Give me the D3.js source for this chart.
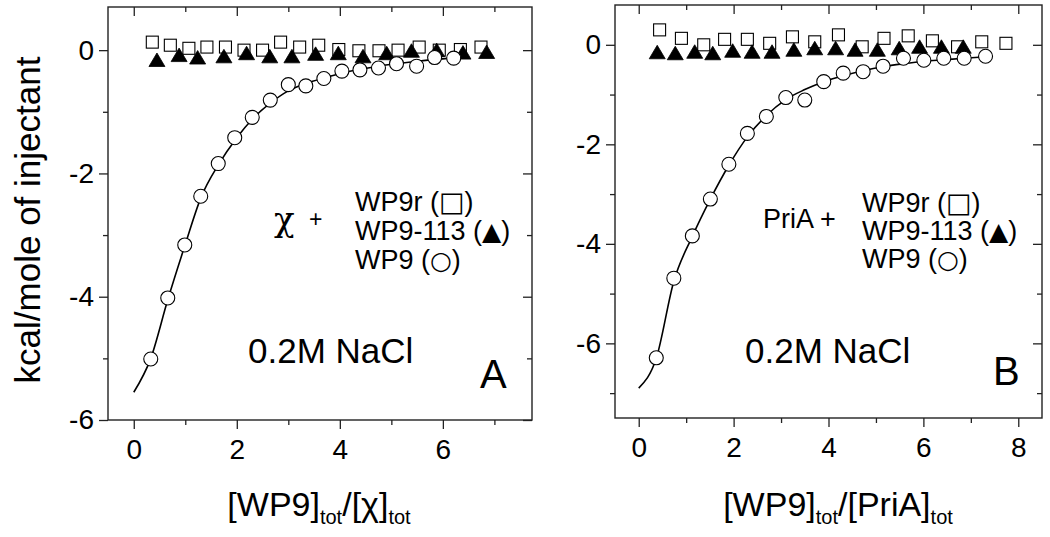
<!DOCTYPE html>
<html><head><meta charset="utf-8">
<script src="https://cdn.jsdelivr.net/npm/d3@7"></script>
<style>
body{margin:0;background:#fff}
svg{display:block}
text{font-family:"Liberation Sans",Arial,sans-serif;fill:#000}
</style>
</head><body>
<svg id="c" width="1050" height="537"></svg>
<script>
// ---------- Panel A data (chi + ...) ----------
const A_wp9_x = [0.33,0.66,0.99,1.30,1.64,1.96,2.30,2.65,3.00,3.34,3.69,4.04,4.39,4.75,5.10,5.49,5.84,6.21];
const A_wp9_y = [-5.01,-4.02,-3.16,-2.37,-1.84,-1.42,-1.09,-0.81,-0.56,-0.58,-0.46,-0.34,-0.32,-0.29,-0.22,-0.26,-0.12,-0.13];
const A_fit_x = [0,0.33,0.66,1.0,1.3,1.65,2.0,2.3,2.65,3.0,3.35,3.7,4.05,4.4,4.75,5.1,5.5,5.85,6.2];
const A_fit_y = [-5.55,-5.0,-4.05,-3.15,-2.4,-1.85,-1.42,-1.12,-0.86,-0.66,-0.54,-0.45,-0.37,-0.31,-0.26,-0.22,-0.18,-0.15,-0.13];
const A_wp9r_x = [0.36,0.71,1.07,1.42,1.78,2.14,2.50,2.85,3.22,3.59,3.98,4.37,4.76,5.13,5.54,5.93,6.34,6.74];
const A_wp9r_y = [0.13,0.08,0.03,0.05,0.05,0.0,0.0,0.13,0.05,0.08,0.01,-0.01,-0.01,0.0,0.05,0.0,0.01,0.05];
const A_wp113_x = [0.45,0.88,1.24,1.75,2.19,2.64,3.07,3.53,3.97,4.45,4.91,5.39,5.88,6.39,6.85];
const A_wp113_y = [-0.16,-0.08,-0.12,-0.10,-0.05,-0.10,-0.10,-0.06,-0.05,-0.10,-0.05,-0.01,0.0,-0.04,-0.03];
const A_xMajor = [0,2,4,6], A_xMinor = [1,3,5,7];
const A_yMajor = [0,-2,-4,-6], A_yMinor = [-1,-3,-5];
const A_xDomain = [-0.5,7.73], A_yDomain = [-6,0.7];

// ---------- Panel B data (PriA + ...) ----------
const B_wp9_x = [0.37,0.74,1.13,1.51,1.90,2.29,2.69,3.10,3.50,3.90,4.31,4.73,5.15,5.58,6.01,6.43,6.86,7.31];
const B_wp9_y = [-6.29,-4.69,-3.84,-3.10,-2.40,-1.78,-1.44,-1.06,-1.11,-0.74,-0.57,-0.54,-0.43,-0.27,-0.31,-0.27,-0.27,-0.23];
const B_fit_x = [0,0.37,0.74,1.13,1.51,1.9,2.29,2.69,3.1,3.5,3.9,4.31,4.73,5.15,5.58,6.01,6.43,6.86,7.31];
const B_fit_y = [-6.9,-6.3,-4.75,-3.85,-3.1,-2.42,-1.85,-1.42,-1.1,-0.9,-0.74,-0.62,-0.52,-0.44,-0.38,-0.33,-0.30,-0.27,-0.24];
const B_wp9r_x = [0.44,0.90,1.37,1.81,2.29,2.76,3.24,3.71,4.21,4.71,5.17,5.68,6.19,6.72,7.23,7.74];
const B_wp9r_y = [0.30,0.13,0.0,0.11,0.11,0.03,0.16,0.06,0.20,-0.04,0.13,0.18,0.08,-0.04,0.06,0.03];
const B_wp113_x = [0.39,0.77,1.18,1.56,1.98,2.39,2.81,3.27,3.71,4.15,4.56,5.03,5.49,5.92,6.38,6.84];
const B_wp113_y = [-0.15,-0.17,-0.14,-0.17,-0.12,-0.14,-0.14,-0.10,-0.07,-0.07,-0.10,-0.10,-0.07,-0.04,-0.04,-0.04];
const B_xMajor = [0,2,4,6,8], B_xMinor = [1,3,5,7];
const B_yMajor = [0,-2,-4,-6], B_yMinor = [-1,-3,-5,-7];
const B_xDomain = [-0.5,8.5], B_yDomain = [-7.5,0.8];

// text
const yTitle = "kcal/mole of injectant";
const legendNames = ["WP9r (", "WP9-113 (", "WP9 ("];
const legendSymbols = ["\u25A1", "\u25B2", "\u25CB"];
const saltLabel = "0.2M NaCl";

const svg = d3.select("#c");
const zip = (xs, ys) => xs.map((x,i)=>({x, y: ys[i]}));
const fmt = d => String(d);

const panels = [
  {left:108, right:532, top:7, bottom:420, xd:A_xDomain, yd:A_yDomain,
   xMaj:A_xMajor, xMin:A_xMinor, yMaj:A_yMajor, yMin:A_yMinor,
   wp9:zip(A_wp9_x,A_wp9_y), fit:zip(A_fit_x,A_fit_y), wp9r:zip(A_wp9r_x,A_wp9r_y), wp113:zip(A_wp113_x,A_wp113_y),
   letter:"A", letterX:480, letterY:388, saltX:248, legX:355, legY:[211,240,269]},
  {left:615, right:1042, top:5, bottom:418, xd:B_xDomain, yd:B_yDomain,
   xMaj:B_xMajor, xMin:B_xMinor, yMaj:B_yMajor, yMin:B_yMinor,
   wp9:zip(B_wp9_x,B_wp9_y), fit:zip(B_fit_x,B_fit_y), wp9r:zip(B_wp9r_x,B_wp9r_y), wp113:zip(B_wp113_x,B_wp113_y),
   letter:"B", letterX:993, letterY:385, saltX:745, legX:862, legY:[212,240,268]}
];

const frameColor = "#222";
function styleAxis(g, fs){
  g.select(".domain").remove();
  g.selectAll("line").attr("stroke", frameColor).attr("stroke-width", 1.3);
  g.selectAll("text").attr("font-family", "'Liberation Sans', Arial, sans-serif").attr("font-size", fs).attr("fill","#000");
  g.attr("font-size", null).attr("font-family", null);
}

panels.forEach(p => {
  const x = d3.scaleLinear().domain(p.xd).range([p.left, p.right]);
  const y = d3.scaleLinear().domain(p.yd).range([p.bottom, p.top]);
  const g = svg.append("g");

  g.append("g").attr("transform",`translate(0,${p.bottom})`)
    .call(d3.axisBottom(x).tickValues(p.xMaj).tickSize(9).tickPadding(10).tickFormat(fmt))
    .call(s=>styleAxis(s,28));
  g.append("g").attr("transform",`translate(0,${p.bottom})`)
    .call(d3.axisBottom(x).tickValues(p.xMin).tickSize(5).tickFormat(""))
    .call(s=>styleAxis(s,28));
  g.append("g").attr("transform",`translate(0,${p.top})`)
    .call(d3.axisTop(x).tickValues(p.xMaj).tickSize(-9).tickFormat(""))
    .call(s=>styleAxis(s,28));
  g.append("g").attr("transform",`translate(0,${p.top})`)
    .call(d3.axisTop(x).tickValues(p.xMin).tickSize(-5).tickFormat(""))
    .call(s=>styleAxis(s,28));
  g.append("g").attr("transform",`translate(${p.left},0)`)
    .call(d3.axisLeft(y).tickValues(p.yMaj).tickSize(9).tickPadding(5).tickFormat(fmt))
    .call(s=>styleAxis(s,28));
  g.append("g").attr("transform",`translate(${p.left},0)`)
    .call(d3.axisLeft(y).tickValues(p.yMin).tickSize(5).tickFormat(""))
    .call(s=>styleAxis(s,28));
  g.append("g").attr("transform",`translate(${p.right},0)`)
    .call(d3.axisRight(y).tickValues(p.yMaj).tickSize(-9).tickFormat(""))
    .call(s=>styleAxis(s,28));
  g.append("g").attr("transform",`translate(${p.right},0)`)
    .call(d3.axisRight(y).tickValues(p.yMin).tickSize(-5).tickFormat(""))
    .call(s=>styleAxis(s,28));

  g.append("rect").attr("x",p.left).attr("y",p.top)
    .attr("width",p.right-p.left).attr("height",p.bottom-p.top)
    .attr("fill","none").attr("stroke",frameColor).attr("stroke-width",1.4);

  g.append("path").datum(p.fit)
    .attr("d", d3.line().x(d=>x(d.x)).y(d=>y(d.y)).curve(d3.curveMonotoneX))
    .attr("fill","none").attr("stroke","#000").attr("stroke-width",1.6);

  g.selectAll(".sq").data(p.wp9r).join("rect")
    .attr("x",d=>x(d.x)-6).attr("y",d=>y(d.y)-6).attr("width",12).attr("height",12)
    .attr("fill","#fff").attr("stroke","#000").attr("stroke-width",1.1);
  g.selectAll(".tri").data(p.wp113).join("path")
    .attr("transform",d=>`translate(${x(d.x)},${y(d.y)})`)
    .attr("d","M0,-7L8,6.5L-8,6.5Z").attr("fill","#000").attr("stroke","#000").attr("stroke-width",0.8);
  g.selectAll(".ci").data(p.wp9).join("circle")
    .attr("cx",d=>x(d.x)).attr("cy",d=>y(d.y)).attr("r",7)
    .attr("fill","#fff").attr("stroke","#000").attr("stroke-width",1.1);

  g.append("text").attr("x",p.saltX).attr("y",363).attr("font-size",35).text(saltLabel);
  g.append("text").attr("x",p.letterX).attr("y",p.letterY).attr("font-size",40).text(p.letter);
  legendNames.forEach((t,i)=>{
    const tx = g.append("text").attr("x",p.legX).attr("y",p.legY[i]).attr("font-size",27);
    tx.append("tspan").text(t);
    tx.append("tspan").style("font-family","'DejaVu Sans',sans-serif")
      .attr("font-size", i===0 ? 27 : 25).text(legendSymbols[i]);
    tx.append("tspan").text(")");
  });
});

svg.append("text").attr("x",274).attr("y",231).attr("font-size",34)
  .style("font-family","'DejaVu Serif',serif").text("\u03C7");
svg.append("text").attr("x",309).attr("y",227).attr("font-size",23).text("+");
svg.append("text").attr("x",763).attr("y",228).attr("font-size",27).text("PriA +");

svg.append("text").attr("transform","translate(40,220) rotate(-90)")
  .attr("text-anchor","middle").attr("font-size",35).text(yTitle);

function xTitle(cx, parts){
  const t = svg.append("text").attr("x",cx).attr("y",516).attr("text-anchor","middle").attr("font-size",34);
  parts.forEach(pt=>{
    const s = t.append("tspan").text(pt.t);
    if(pt.sub){ s.attr("font-size",20).attr("dy",8); }
    else if(pt.after){ s.attr("dy",-8); }
  });
}
xTitle(319, [{t:"[WP9]"},{t:"tot",sub:true},{t:"/[\u03C7]",after:true},{t:"tot",sub:true}]);
xTitle(838, [{t:"[WP9]"},{t:"tot",sub:true},{t:"/[PriA]",after:true},{t:"tot",sub:true}]);
</script>
</body></html>
